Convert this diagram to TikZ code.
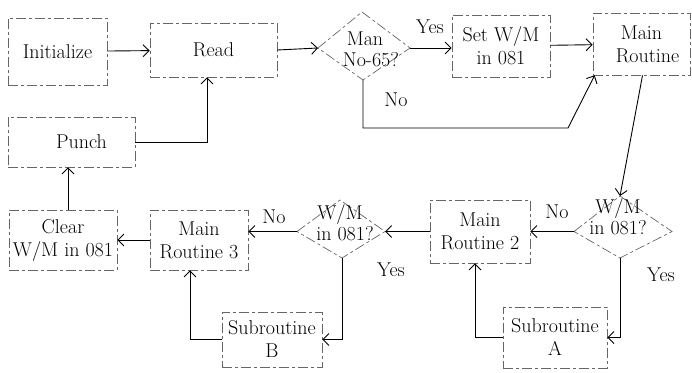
\documentclass[tikz,border=0pt]{standalone}
\usetikzlibrary{arrows.meta,calc}
\newcommand\fsz{\fontsize{20}{23}\selectfont}
\begin{document}
\begin{tikzpicture}[x=1pt,y=-1pt,
  box/.style={draw=black!60, dash pattern=on 10pt off 3pt on 3pt off 3pt, line width=0.7pt,
              rectangle, inner sep=0pt, align=center, font=\fsz},
  dia/.style={draw=black!60, dash pattern=on 10pt off 3pt on 3pt off 3pt, line width=0.7pt},
  conn/.style={draw=black, line width=0.9pt, -{Straight Barb[length=6pt,width=12pt,line width=0.9pt]}},
  qtext/.style={inner sep=0pt, align=center, font=\fsz},
  lbl/.style={inner sep=0pt, font=\fsz}]
\useasboundingbox (0,0) rectangle (692,372);

% boxes
\node[box, minimum width=99pt, minimum height=67pt] (init) at (57.5,51.5) {Initialize};
\node[box, minimum width=127pt, minimum height=54pt] (read) at (213.5,50) {Read};
\node[box, minimum width=127pt, minimum height=50pt] (punch) at (71.5,142) {\hspace*{20pt}Punch};
\node[box, minimum width=98pt, minimum height=62pt] (set) at (501,46) {Set W/M\\in 081};
\node[box, minimum width=97pt, minimum height=62pt] (main) at (641.5,44) {Main\\\hspace*{12pt}Routine};
\node[box, minimum width=100pt, minimum height=63pt] (mr2) at (480,231.5) {Main\\Routine 2};
\node[box, minimum width=104pt, minimum height=61pt] (suba) at (555,337.5) {Subroutine\\A};
\node[box, minimum width=100pt, minimum height=55pt] (subb) at (272,339.5) {Subroutine\\B};
\node[box, minimum width=98pt, minimum height=60pt] (mr3) at (199,240) {Main\\Routine 3};
\node[box, minimum width=108pt, minimum height=60pt] (clear) at (63,240) {Clear\\W/M in 081};

% decision 1
\coordinate (d1l) at (318,48);
\coordinate (d1t) at (362,12);
\coordinate (d1r) at (410,48);
\coordinate (d1b) at (363,80);
\draw[dia] (d1l) -- (d1t) -- (d1r) -- (d1b) -- cycle;
\node[qtext] (q1) at (365,49) {Man\\[-2pt]\hspace*{12pt}No-65?};

% decision 2 (right)
\coordinate (d2l) at (574,231.5);
\coordinate (d2t) at (620,196);
\coordinate (d2r) at (672,231.5);
\coordinate (d2b) at (620,258);
\draw[dia] (d2l) -- (d2t) -- (d2r) -- (d2b) -- cycle;
\node[qtext] (q2) at (618,217) {W/M\\[-2pt]in 081?};

% decision 3 (middle)
\coordinate (d3l) at (297,231.5);
\coordinate (d3t) at (340,200);
\coordinate (d3r) at (385,231.5);
\coordinate (d3b) at (342,258);
\draw[dia] (d3l) -- (d3t) -- (d3r) -- (d3b) -- cycle;
\node[qtext] (q3) at (340,223) {W/M\\[-2pt]\hspace*{10pt}in 081?};

% connectors
\draw[conn] (init) -- (read);
\draw[conn] (read.east) -- (d1l);
\draw[conn] (d1r) -- (d1r -| set.west);
\draw[conn] (set) -- (main);
\coordinate (n1) at (363,128);
\coordinate (n2) at (568,128);
\draw[conn] (d1b) -- (n1) -- (n2) -- ([xshift=2pt]main.south west);
\draw[conn] ([xshift=1pt]main.south) -- (d2t);
\draw[conn] (d2l) -- (d2l -| mr2.east);
\draw[conn] (d2b) |- (suba.east);
\draw[conn] (suba.west) -| ([xshift=-5pt]mr2.south);
\draw[conn] (mr2.west) -- (d3r);
\draw[conn] (d3l) -- (d3l -| mr3.east);
\draw[conn] (d3b) |- (subb.east);
\draw[conn] (subb.west) -| ([xshift=-9pt]mr3.south);
\draw[conn] (mr3.west) -- (mr3.west -| clear.east);
\draw[conn] ([xshift=5pt]clear.north) -- ([xshift=-3.5pt]punch.south);
\draw[conn] (punch.east) -| ([xshift=-6.5pt]read.south);

% labels
\node[lbl] (yes1) at (430,27) {Yes};
\node[lbl] (no1) at (396,100) {No};
\node[lbl] (no2) at (557,212) {No};
\node[lbl] (yes2) at (661,275) {Yes};
\node[lbl] (no3) at (274,217) {No};
\node[lbl] (yes3) at (391,270) {Yes};
\end{tikzpicture}
\end{document}
